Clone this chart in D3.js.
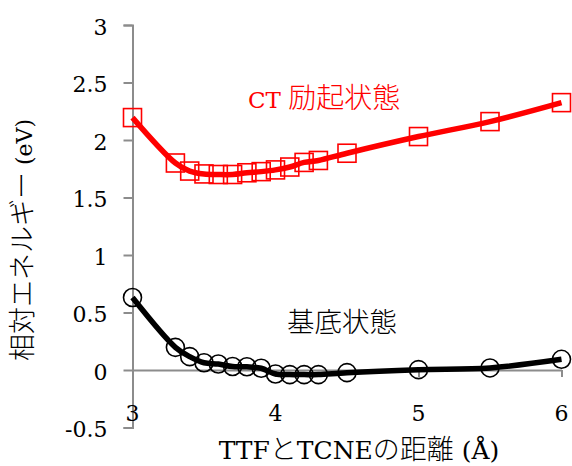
<!DOCTYPE html>
<html><head><meta charset="utf-8">
<script src="https://cdn.jsdelivr.net/npm/d3@7"></script>
<style>body{margin:0;background:#fff}</style>
</head><body>
<svg id="c" width="572" height="466"></svg>
<script>
const distances = [3.0, 3.3, 3.4, 3.5, 3.6, 3.7, 3.8, 3.9, 4.0, 4.1, 4.2, 4.3, 4.5, 5.0, 5.5, 6.0];
const ctExcited = [2.195, 1.80, 1.73, 1.705, 1.70, 1.70, 1.715, 1.725, 1.74, 1.765, 1.805, 1.822, 1.885, 2.03, 2.16, 2.325];
const groundState = [0.63, 0.197, 0.116, 0.063, 0.052, 0.03, 0.028, 0.015, -0.035, -0.04, -0.04, -0.04, -0.023, 0.003, 0.018, 0.093];
const xTicks = [3, 4, 5, 6];
const yTicks = [-0.5, 0, 0.5, 1, 1.5, 2, 2.5, 3];

const svg = d3.select("#c");
const x = d3.scaleLinear().domain([3, 6]).range([132.5, 561.5]);
const y = d3.scaleLinear().domain([-0.5, 3]).range([427.5, 25]);
const LATIN = "'DejaVu Serif', serif";
const CJK = "'Noto Sans CJK JP', sans-serif";
const axisColor = "#8c8c8c";

// Y axis
const yAxis = svg.append("g").attr("transform", `translate(${x(3)},0)`)
  .call(d3.axisLeft(y).tickValues(yTicks).tickSize(9).tickPadding(16).tickFormat(d => String(d)));
yAxis.select(".domain").attr("stroke", axisColor).attr("stroke-width", 2);
yAxis.selectAll(".tick line").attr("stroke", axisColor).attr("stroke-width", 2);
yAxis.selectAll(".tick text").attr("font-family", LATIN).attr("font-size", 22).attr("fill", "#000").attr("dy", "0.42em");

// X axis line at y=0, labels at bottom
const xAxis = svg.append("g").attr("transform", `translate(0,${y(0)})`)
  .call(d3.axisBottom(x).tickValues(xTicks).tickSize(7).tickSizeOuter(0).tickFormat(() => ""));
xAxis.select(".domain").attr("stroke", axisColor).attr("stroke-width", 2);
xAxis.selectAll(".tick line").attr("stroke", axisColor).attr("stroke-width", 2);
svg.append("g").selectAll("text").data(xTicks).join("text")
  .attr("x", d => x(d)).attr("y", 421).attr("text-anchor", "middle")
  .attr("font-family", LATIN).attr("font-size", 22).text(d => d);

const line = d3.line().curve(d3.curveCatmullRom.alpha(0.5)).x(d => x(d[0])).y(d => y(d[1]));
const red = "#ff0000";

const ctData = distances.map((d, i) => [d, ctExcited[i]]);
const gsData = distances.map((d, i) => [d, groundState[i]]);

svg.append("path").datum(ctData).attr("d", line).attr("fill", "none").attr("stroke", red).attr("stroke-width", 5.5);
svg.append("path").datum(gsData).attr("d", line).attr("fill", "none").attr("stroke", "#000").attr("stroke-width", 5.5);

const s = 18;
svg.append("g").selectAll("rect").data(ctData).join("rect")
  .attr("x", d => x(d[0]) - s / 2).attr("y", d => y(d[1]) - s / 2)
  .attr("width", s).attr("height", s).attr("fill", "none").attr("stroke", red).attr("stroke-width", 1.6);
svg.append("g").selectAll("circle").data(gsData).join("circle")
  .attr("cx", d => x(d[0])).attr("cy", d => y(d[1])).attr("r", 9)
  .attr("fill", "none").attr("stroke", "#000").attr("stroke-width", 1.6);

function mixedText(g, parts, attrs, latinSize, cjkSize) {
  const t = g.append("text");
  Object.entries(attrs).forEach(([k, v]) => t.attr(k, v));
  parts.forEach(([str, cjk]) => {
    t.append("tspan").attr("font-family", cjk ? CJK : LATIN)
      .attr("font-size", cjk ? cjkSize : latinSize).attr("font-weight", cjk ? 300 : 400).text(str);
  });
  return t;
}

mixedText(svg, [["CT ", false], ["励起状態", true]], {x: 248, y: 108, fill: red}, 23, 28);
mixedText(svg, [["基底状態", true]], {x: 287, y: 332, fill: "#000"}, 23, 27.5);
mixedText(svg, [["TTF", false], ["と", true], ["TCNE", false], ["の距離", true], [" (Å)", false]],
  {x: 359, y: 459, "text-anchor": "middle", fill: "#000"}, 25, 27);
mixedText(svg, [["相対エネルギー", true], [" (eV)", false]],
  {transform: "translate(32,240) rotate(-90)", "text-anchor": "middle", fill: "#000"}, 22, 27);
</script>
</body></html>
